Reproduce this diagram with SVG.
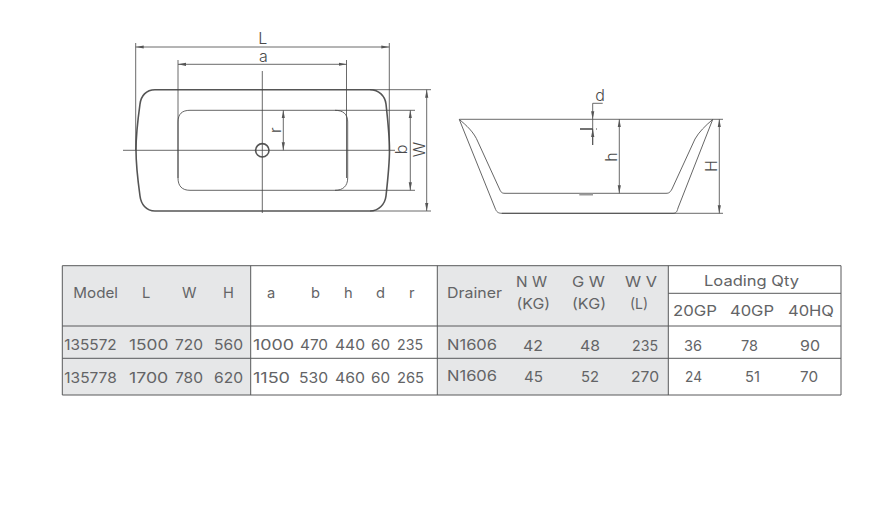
<svg xmlns="http://www.w3.org/2000/svg" width="896" height="520" viewBox="0 0 896 520">
<style>
text{font-family:Inter,"Noto Sans","DejaVu Sans",sans-serif;font-size:14.7px;fill:#636466;font-weight:400}
.lab{font-size:16px;fill:#4a4a4a;font-weight:300}
.m{text-anchor:middle}
.t{fill:none;stroke:#555;stroke-width:1.6}
.s{fill:none;stroke:#555;stroke-width:.9}
.d{fill:none;stroke:#444;stroke-width:.8}
.a{marker-start:url(#ar);marker-end:url(#ar)}
.g{fill:#e6e7e8}
.b{fill:none;stroke:#58595b;stroke-width:1}
</style>
<defs>
<marker id="ar" viewBox="0 0 8 4" refX="8" refY="2" markerWidth="8" markerHeight="4" markerUnits="userSpaceOnUse" orient="auto-start-reverse"><path d="M0,.4L8,2L0,3.6z" fill="#555"/></marker>
</defs>
<rect width="896" height="520" fill="#fff"/>
<g id="top-view">
<path class="t" d="M155,89.7H370C379,89.7 385,96 386,104C388,122 389.500,138 389.500,150C389.500,162 388,178 386,196C385,204 379,211 370,211H155C146,211 141,204 140,196C137.500,178 136,162 136,150C136,138 137.500,122 140,104C141,96 146,89.700 155,89.7Z"/>
<path class="s" d="M190,110.300H335C343,110.300 347.700,114 347.700,122V178C347.700,186 343,190.300 335,190.300H190C182,190.300 178,186 178,178V122C178,114 182,110.300 190,110.300Z"/>
<circle class="t" cx="262.300" cy="150.300" r="6.700"/>
</g>
<g id="top-dimensions">
<path class="d" d="M135.700,43V150M389.300,43V150M178,60V178M346.500,60V178M262.300,71V213M123,150.300H395M370,89.700H431M370,211H431M335,110.300H415M335,190.300H415"/>
<path class="d a" d="M135.700,47H389.300"/>
<path class="d a" d="M178,64.300H346.500"/>
<path class="d a" d="M426.700,89.700V211"/>
<path class="d a" d="M410.300,110.300V190.300"/>
<path class="d a" d="M283.300,110.300V150.300"/>
<text class="lab m" x="262.800" y="44">L</text>
<text class="lab m" x="263.500" y="62">a</text>
<text class="lab m" transform="translate(280.700,130) rotate(-90)">r</text>
<text class="lab m" transform="translate(407,149.500) rotate(-90)">b</text>
<text class="lab m" transform="translate(425,149.500) rotate(-90)">W</text>
</g>
<g id="side-view">
<path class="s" d="M459.300,119.500L495,208C496.500,212 498,213.300 502,213.300H673C676,213.300 677,212 678,208L712.700,119.500C705,126 699,132 695,139L672,189C670,192.500 669,193.300 666,193.300H505C502,193.300 501,192.500 499.500,189L478,142C474,132 466,125 459.300,119.500Z"/>
<path d="M579.300,194.500H593" stroke="#999" stroke-width="2" fill="none"/>
</g>
<g id="side-dimensions">
<path class="d" d="M459.300,119.300H723M502,213.300H723M592.700,119.300V145M592.700,103.300H602.700"/>
<path class="d" d="M592.700,103.300V119.300" marker-end="url(#ar)"/>
<path class="d" d="M592.700,145V129" marker-end="url(#ar)"/>
<path d="M580,129H592.700" stroke="#444" stroke-width="1.500" fill="none"/>
<path d="M596,129H597" stroke="#444" stroke-width="1" fill="none"/>
<path class="d a" d="M619.300,119.300V193.300"/>
<path class="d a" d="M719.300,119.300V213.300"/>
<text class="lab m" x="600" y="100.700">d</text>
<text class="lab m" transform="translate(616.700,157) rotate(-90)">h</text>
<text class="lab m" transform="translate(717,166) rotate(-90)">H</text>
</g>
<g id="table">
<rect class="g" x="62.300" y="265.700" width="188.400" height="129.300"/>
<rect class="g" x="437.300" y="265.700" width="231" height="129.300"/>
<path class="b" d="M62.300,265.700H841V395H62.300ZM62.300,326H841M62.300,358.300H841M250.700,265.700V395M437.300,265.700V395M668.300,265.700V395M668.300,293.300H841"/>
<g id="header">
<text x="73.300" y="298" textLength="44.700" lengthAdjust="spacingAndGlyphs">Model</text>
<text x="142" y="298">L</text>
<text x="182" y="298">W</text>
<text x="223" y="298">H</text>
<text x="267" y="298">a</text>
<text x="311" y="298">b</text>
<text x="344" y="298">h</text>
<text x="376" y="298">d</text>
<text x="409" y="298">r</text>
<text x="447" y="298" textLength="55" lengthAdjust="spacingAndGlyphs">Drainer</text>
<text x="516" y="286.700" textLength="31" lengthAdjust="spacingAndGlyphs">N W</text>
<text x="516.500" y="309" textLength="33.500" lengthAdjust="spacingAndGlyphs">(KG)</text>
<text x="572" y="286.700" textLength="33" lengthAdjust="spacingAndGlyphs">G W</text>
<text x="572" y="309" textLength="34" lengthAdjust="spacingAndGlyphs">(KG)</text>
<text x="625" y="286.700" textLength="32" lengthAdjust="spacingAndGlyphs">W V</text>
<text x="630" y="309" textLength="18" lengthAdjust="spacingAndGlyphs">(L)</text>
<text x="704" y="285.700" textLength="95" lengthAdjust="spacingAndGlyphs">Loading Qty</text>
<text x="673" y="315.700" textLength="44" lengthAdjust="spacingAndGlyphs">20GP</text>
<text x="730" y="315.700" textLength="44" lengthAdjust="spacingAndGlyphs">40GP</text>
<text x="788" y="315.700" textLength="46" lengthAdjust="spacingAndGlyphs">40HQ</text>
</g>
<g id="row-135572">
<text x="64.300" y="350" textLength="52.400" lengthAdjust="spacingAndGlyphs">135572</text>
<text x="129" y="350" textLength="39.300" lengthAdjust="spacingAndGlyphs">1500</text>
<text x="175" y="350" textLength="28" lengthAdjust="spacingAndGlyphs">720</text>
<text x="214" y="350" textLength="29" lengthAdjust="spacingAndGlyphs">560</text>
<text x="253" y="350" textLength="41" lengthAdjust="spacingAndGlyphs">1000</text>
<text x="300" y="350" textLength="28" lengthAdjust="spacingAndGlyphs">470</text>
<text x="335" y="350" textLength="30" lengthAdjust="spacingAndGlyphs">440</text>
<text x="371" y="350" textLength="19" lengthAdjust="spacingAndGlyphs">60</text>
<text x="397" y="350" textLength="26" lengthAdjust="spacingAndGlyphs">235</text>
<text x="447" y="349.500" textLength="50" lengthAdjust="spacingAndGlyphs">N1606</text>
<text x="523" y="351" textLength="20" lengthAdjust="spacingAndGlyphs">42</text>
<text x="580" y="351" textLength="20" lengthAdjust="spacingAndGlyphs">48</text>
<text x="632" y="351" textLength="26" lengthAdjust="spacingAndGlyphs">235</text>
<text x="684" y="351" textLength="18" lengthAdjust="spacingAndGlyphs">36</text>
<text x="741" y="351" textLength="17" lengthAdjust="spacingAndGlyphs">78</text>
<text x="800" y="351" textLength="20" lengthAdjust="spacingAndGlyphs">90</text>
</g>
<g id="row-135778">
<text x="64.300" y="382.700" textLength="52.400" lengthAdjust="spacingAndGlyphs">135778</text>
<text x="129" y="382.700" textLength="39.300" lengthAdjust="spacingAndGlyphs">1700</text>
<text x="175" y="382.700" textLength="28" lengthAdjust="spacingAndGlyphs">780</text>
<text x="214" y="382.700" textLength="29" lengthAdjust="spacingAndGlyphs">620</text>
<text x="253" y="382.700" textLength="37" lengthAdjust="spacingAndGlyphs">1150</text>
<text x="299" y="382.700" textLength="29" lengthAdjust="spacingAndGlyphs">530</text>
<text x="335" y="382.700" textLength="30" lengthAdjust="spacingAndGlyphs">460</text>
<text x="371" y="382.700" textLength="19" lengthAdjust="spacingAndGlyphs">60</text>
<text x="397" y="382.700" textLength="27" lengthAdjust="spacingAndGlyphs">265</text>
<text x="447" y="381" textLength="50" lengthAdjust="spacingAndGlyphs">N1606</text>
<text x="524" y="382" textLength="19" lengthAdjust="spacingAndGlyphs">45</text>
<text x="581" y="382" textLength="18" lengthAdjust="spacingAndGlyphs">52</text>
<text x="631" y="382" textLength="28" lengthAdjust="spacingAndGlyphs">270</text>
<text x="685" y="382" textLength="17" lengthAdjust="spacingAndGlyphs">24</text>
<text x="745" y="382">51</text>
<text x="800" y="382" textLength="18" lengthAdjust="spacingAndGlyphs">70</text>
</g>
</g>
</svg>
